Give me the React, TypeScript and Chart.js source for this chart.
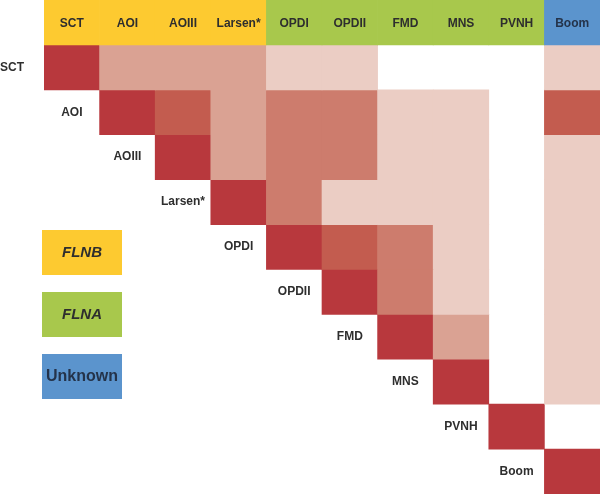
import React, { useEffect, useRef } from "react";
import { Chart, registerables } from "chart.js";

Chart.register(...registerables);

const categories = ["SCT", "AOI", "AOIII", "Larsen*", "OPDI", "OPDII", "FMD", "MNS", "PVNH", "Boom"];
const groupOf = ["FLNB", "FLNB", "FLNB", "FLNB", "FLNA", "FLNA", "FLNA", "FLNA", "FLNA", "Unknown"];
const groupNames = ["FLNB", "FLNA", "Unknown"];
const groupColors = ["#FDCA30", "#A8C84C", "#5B94CD"];
const groupTextColors = ["#2e2e2e", "#2e2e2e", "#24334a"];

// overlap level per column (0 = none, 5 = self); null = lower triangle
const _ = null;
const rowSCT = [5, 2, 2, 2, 1, 1, 0, 0, 0, 1];
const rowAOI = [_, 5, 4, 2, 3, 3, 1, 1, 0, 4];
const rowAOIII = [_, _, 5, 2, 3, 3, 1, 1, 0, 1];
const rowLarsen = [_, _, _, 5, 3, 1, 1, 1, 0, 1];
const rowOPDI = [_, _, _, _, 5, 4, 3, 1, 0, 1];
const rowOPDII = [_, _, _, _, _, 5, 3, 1, 0, 1];
const rowFMD = [_, _, _, _, _, _, 5, 2, 0, 1];
const rowMNS = [_, _, _, _, _, _, _, 5, 0, 1];
const rowPVNH = [_, _, _, _, _, _, _, _, 5, 0];
const rowBoom = [_, _, _, _, _, _, _, _, _, 5];
const matrix = [rowSCT, rowAOI, rowAOIII, rowLarsen, rowOPDI, rowOPDII, rowFMD, rowMNS, rowPVNH, rowBoom];

const levelColors = ["#FFFFFF", "#EBCDC4", "#DAA293", "#CD7C6D", "#C35C4F", "#B8383D"];

const FONT = "'Liberation Sans', Arial, Helvetica, sans-serif";
const TEXT = "#2e2e2e";

export default function App() {
  const ref = useRef<HTMLCanvasElement | null>(null);
  useEffect(() => {
    if (!ref.current) return;
    const datasets: any[] = [];
    // header band
    datasets.push({
      label: "header",
      data: categories.map(() => [-1, 0]),
      backgroundColor: categories.map((_c, j) => groupColors[groupNames.indexOf(groupOf[j])]),
    });
    matrix.forEach((row, i) => {
      datasets.push({
        label: categories[i],
        data: row.map((v) => (v != null && v > 0 ? [i, i + 1] : null)),
        backgroundColor: row.map((v) => levelColors[v == null ? 0 : v]),
      });
    });
    datasets.forEach((d) => {
      d.borderWidth = 0;
      d.barPercentage = 1;
      d.categoryPercentage = 1;
      d.grouped = false;
    });

    const labelsPlugin = {
      id: "labels",
      afterDraw(chart: any) {
        const ctx = chart.ctx;
        const xs = chart.scales.x;
        const ys = chart.scales.y;
        const colW = xs.getPixelForValue(1) - xs.getPixelForValue(0);
        ctx.save();
        ctx.textAlign = "center";
        ctx.textBaseline = "middle";
        ctx.font = `bold 12px ${FONT}`;
        categories.forEach((c, j) => {
          const x = xs.getPixelForValue(j);
          const y = (ys.getPixelForValue(-1) + ys.getPixelForValue(0)) / 2;
          ctx.fillStyle = groupTextColors[groupNames.indexOf(groupOf[j])];
          ctx.fillText(c, x, y + 1);
        });
        ctx.fillStyle = TEXT;
        categories.forEach((c, i) => {
          const x = xs.getPixelForValue(i) - colW;
          const y = (ys.getPixelForValue(i) + ys.getPixelForValue(i + 1)) / 2;
          const w = ctx.measureText(c).width;
          if (x - w / 2 < 8) {
            ctx.textAlign = "left";
            ctx.fillText(c, 0, y);
            ctx.textAlign = "center";
          } else {
            ctx.fillText(c, x, y);
          }
        });
        // legend boxes
        const boxes = [
          { y: 230, italic: true, size: 15 },
          { y: 292, italic: true, size: 15 },
          { y: 354, italic: false, size: 16 },
        ];
        groupNames.forEach((g, k) => {
          const b = boxes[k];
          ctx.fillStyle = groupColors[k];
          ctx.fillRect(42, b.y, 80, 45);
          ctx.fillStyle = groupTextColors[k];
          ctx.font = `${b.italic ? "italic " : ""}bold ${b.size}px ${FONT}`;
          ctx.fillText(g, 82, b.y + 23);
        });
        ctx.restore();
      },
    };

    const chart = new Chart(ref.current, {
      type: "bar",
      data: { labels: categories, datasets },
      options: {
        animation: false,
        responsive: false,
        maintainAspectRatio: false,
        layout: { padding: { left: 44, right: 0, top: 0, bottom: 0 } },
        plugins: { legend: { display: false }, tooltip: { enabled: false } },
        scales: {
          x: { type: "category", display: false, offset: true, grid: { display: false } },
          y: { type: "linear", display: false, min: -1, max: 10, reverse: true, grid: { display: false } },
        },
      },
      plugins: [labelsPlugin],
    });
    return () => chart.destroy();
  }, []);
  return (
    <div style={{ position: "absolute", left: 0, top: 0, width: 600, height: 494, background: "#fff" }}>
      <canvas ref={ref} width={600} height={494} style={{ width: 600, height: 494, display: "block" }} />
    </div>
  );
}
